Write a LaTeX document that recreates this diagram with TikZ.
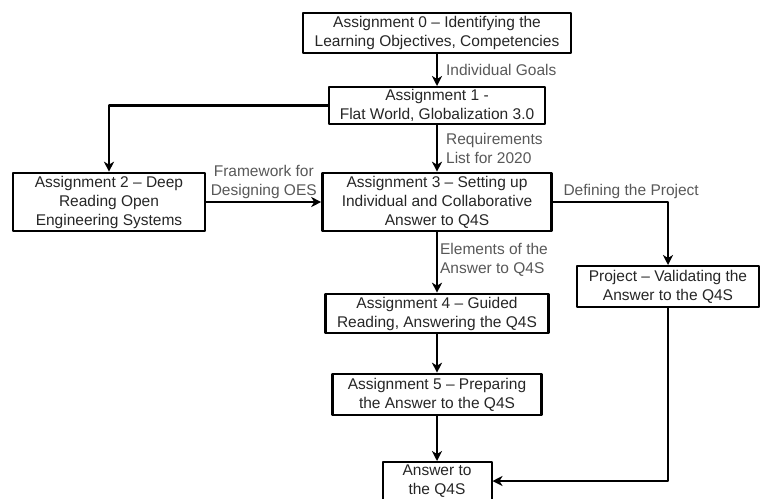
\documentclass[tikz,border=0pt]{standalone}
\usepackage{fontspec}
\setmainfont{Liberation Sans}
\usetikzlibrary{arrows.meta}
\definecolor{xamnhan}{RGB}{88,88,88}
\begin{document}
\begin{tikzpicture}[line join=round,x=1pt,y=-1pt,>={Stealth[length=10pt,width=10pt,inset=3pt]},
    font=\fontsize{15.5}{19}\selectfont,
    hop/.style={draw,line width=2.6pt,align=center,inner sep=0pt,text=black!85},
    mui/.style={->,line width=2.3pt},
    nhan/.style={text=xamnhan,align=left,inner sep=2pt}]
    \useasboundingbox (0,0) rectangle (760,498);
    %Vẽ các hộp
    \node[hop,minimum width=268pt,minimum height=40pt] (a0) at (437,33) {Assignment 0 – Identifying the\\Learning Objectives, Competencies};
    \node[hop,line width=2pt,minimum width=216pt,minimum height=37pt] (a1) at (437,105.5) {Assignment 1 -\\Flat World, Globalization 3.0};
    \node[hop,minimum width=192pt,minimum height=58pt] (a2) at (109,202) {Assignment 2 – Deep\\Reading Open\\Engineering Systems};
    \node[hop,minimum width=229pt,minimum height=58pt] (a3) at (437,202) {Assignment 3 – Setting up\\Individual and Collaborative\\Answer to Q4S};
    \node[hop,minimum width=223pt,minimum height=39pt] (a4) at (437,313.5) {Assignment 4 – Guided\\Reading, Answering the Q4S};
    \node[hop,minimum width=209pt,minimum height=41pt] (a5) at (437,394.5) {Assignment 5 – Preparing\\the Answer to the Q4S};
    \node[hop,line width=2pt,minimum width=182pt,minimum height=41pt] (pj) at (668,286.5) {Project – Validating the\\Answer to the Q4S};
    \node[hop,line width=2pt,minimum width=109pt,minimum height=38pt] (ans) at (437,481) {Answer to\\the Q4S};
    %Vẽ các mũi tên
    \draw[mui] (a0.south) -- node[nhan,right,xshift=6pt]{Individual Goals} (a1.north);
    \draw[mui] (a1.south) -- node[nhan,right,xshift=6pt]{Requirements\\List for 2020} (a3.north);
    \draw[mui] (a1.west) -| (a2.north);
    \draw[mui] (a2.east) -- node[nhan,above,align=center]{Framework for\\Designing OES} (a3.west);
    \draw[mui] (a3.east) -| node[nhan,pos=0.34,above]{Defining the Project} (pj.north);
    \draw[mui] (a3.south) -- node[nhan,right,yshift=3pt]{Elements of the\\Answer to Q4S} (a4.north);
    \draw[mui] (a4.south) -- (a5.north);
    \draw[mui] (a5.south) -- (ans.north);
    \draw[mui] (pj.south) |- (ans.east);
\end{tikzpicture}
\end{document}
